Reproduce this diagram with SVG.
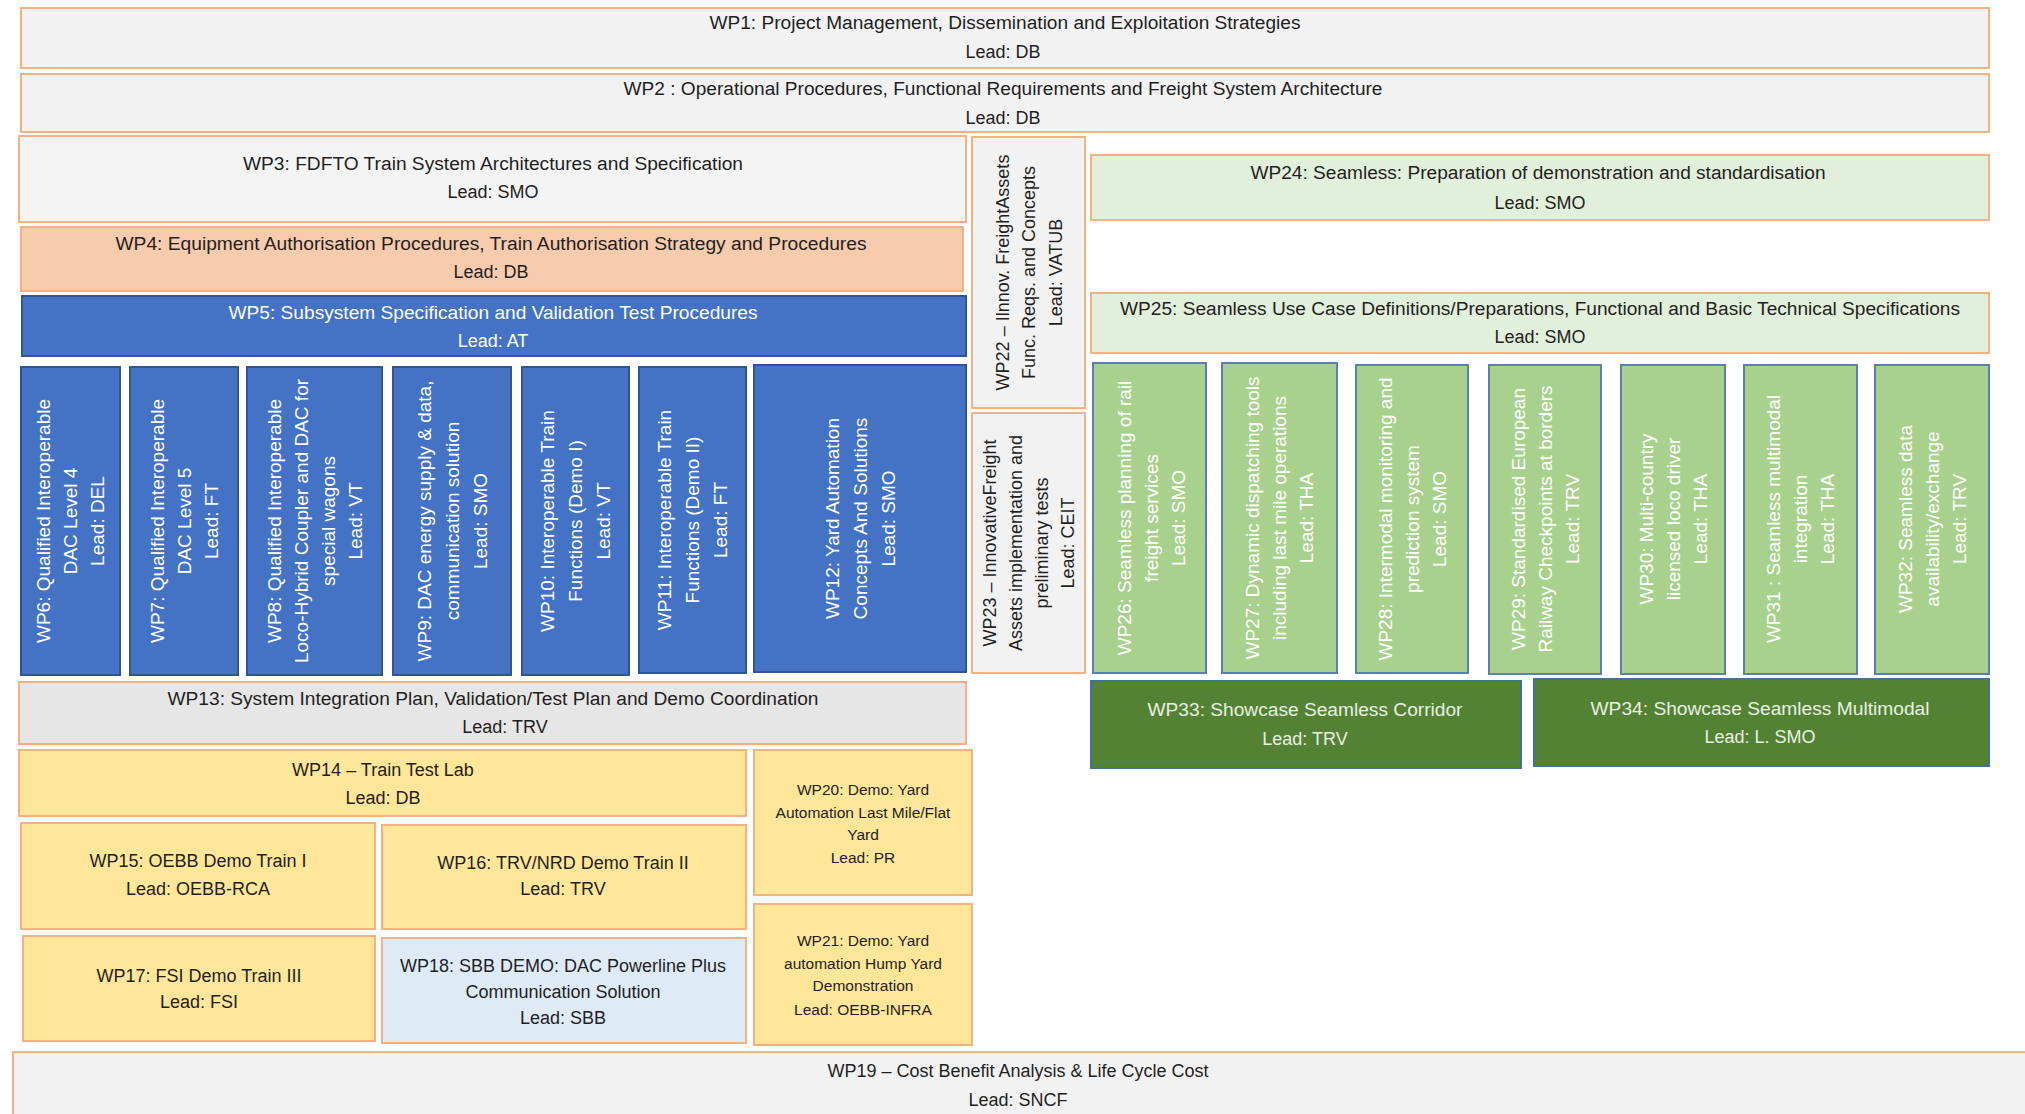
<svg xmlns="http://www.w3.org/2000/svg" width="2025" height="1114" viewBox="0 0 2025 1114">
<style>
rect{stroke-width:2}
.grey{fill:#F2F2F2;stroke:#F4B183}
.grey2{fill:#E7E6E6;stroke:#F4B183}
.peach{fill:#F8CBAD;stroke:#F4B183}
.blue{fill:#4472C4;stroke:#2F5597}
.yellow{fill:#FFE699;stroke:#F4B183}
.lblue{fill:#DEEBF7;stroke:#F4B183}
.lgreen{fill:#E2EFDA;stroke:#F4B183}
.green{fill:#A9D18E;stroke:#5B7FB0}
.dgreen{fill:#548235;stroke:#41719C}
text{font-family:"Liberation Sans",Arial,sans-serif;font-size:18px;fill:#1F1F1F;text-anchor:middle}
.w{fill:#FFFFFF}
.lw{fill:#E8F0E0}
.v{font-size:19px}
.s{font-size:15.5px}
</style>
<rect x="0" y="0" width="2025" height="1114" fill="#FFFFFF" stroke="none"/>
<g id="connectors"/>
<g id="wp1"><rect class="grey" x="21" y="8" width="1968" height="60"/>
<text x="1005" y="29" textLength="591" lengthAdjust="spacingAndGlyphs">WP1: Project Management, Dissemination and Exploitation Strategies</text>
<text x="1003" y="58">Lead: DB</text></g>
<g id="wp2"><rect class="grey" x="21" y="74" width="1968" height="58"/>
<text x="1003" y="95" textLength="759" lengthAdjust="spacingAndGlyphs">WP2 : Operational Procedures, Functional Requirements and Freight System Architecture</text>
<text x="1003" y="124">Lead: DB</text></g>
<g id="wp3"><rect class="grey" x="19" y="136" width="947" height="86" style="fill:#F4F4F4"/>
<text x="493" y="170" textLength="500" lengthAdjust="spacingAndGlyphs">WP3: FDFTO Train System Architectures and Specification</text>
<text x="493" y="198">Lead: SMO</text></g>
<g id="wp4"><rect class="peach" x="21" y="227" width="942" height="64"/>
<text x="491" y="250" textLength="751" lengthAdjust="spacingAndGlyphs">WP4: Equipment Authorisation Procedures, Train Authorisation Strategy and Procedures</text>
<text x="491" y="278">Lead: DB</text></g>
<g id="wp5"><rect class="blue" x="22" y="296" width="944" height="60"/>
<text class="w" x="493" y="319" textLength="529" lengthAdjust="spacingAndGlyphs">WP5: Subsystem Specification and Validation Test Procedures</text>
<text class="w" x="493" y="347">Lead: AT</text></g>
<g id="wp6"><rect class="blue" x="21" y="367" width="99" height="308"/>
<text class="w v" transform="translate(70.5,521) rotate(-90)"><tspan x="0" y="-20.5">WP6: Qualified Interoperable</tspan><tspan x="0" y="6.5">DAC Level 4</tspan><tspan x="0" y="33.5">Lead: DEL</tspan></text></g>
<g id="wp7"><rect class="blue" x="130" y="367" width="108" height="308"/>
<text class="w v" transform="translate(184,521) rotate(-90)"><tspan x="0" y="-20.5">WP7: Qualified Interoperable</tspan><tspan x="0" y="6.5">DAC Level 5</tspan><tspan x="0" y="33.5">Lead: FT</tspan></text></g>
<g id="wp8"><rect class="blue" x="247" y="367" width="135" height="308"/>
<text class="w v" transform="translate(314.5,521) rotate(-90)"><tspan x="0" y="-34">WP8: Qualified Interoperable</tspan><tspan x="0" y="-7">Loco-Hybrid Coupler and DAC for</tspan><tspan x="0" y="20">special wagons</tspan><tspan x="0" y="47">Lead: VT</tspan></text></g>
<g id="wp9"><rect class="blue" x="393" y="367" width="118" height="308"/>
<text class="w v" transform="translate(452,521) rotate(-90)"><tspan x="0" y="-21.5">WP9: DAC energy supply &amp; data,</tspan><tspan x="0" y="6.5">communication solution</tspan><tspan x="0" y="34.5">Lead: SMO</tspan></text></g>
<g id="wp10"><rect class="blue" x="522" y="367" width="107" height="308"/>
<text class="w v" transform="translate(575.5,521) rotate(-90)"><tspan x="0" y="-21.5">WP10: Interoperable Train</tspan><tspan x="0" y="6.5">Functions (Demo I)</tspan><tspan x="0" y="34.5">Lead: VT</tspan></text></g>
<g id="wp11"><rect class="blue" x="639" y="367" width="107" height="306"/>
<text class="w v" transform="translate(692.5,520) rotate(-90)"><tspan x="0" y="-21.5">WP11:  Interoperable  Train</tspan><tspan x="0" y="6.5">Functions (Demo II)</tspan><tspan x="0" y="34.5">Lead: FT</tspan></text></g>
<g id="wp12"><rect class="blue" x="754" y="365" width="212" height="307"/>
<text class="w v" transform="translate(860,518.5) rotate(-90)"><tspan x="0" y="-21.5">WP12:  Yard  Automation</tspan><tspan x="0" y="6.5">Concepts And Solutions</tspan><tspan x="0" y="34.5">Lead: SMO</tspan></text></g>
<g id="wp22"><rect class="grey" x="972" y="137" width="113" height="271"/>
<text transform="translate(1028.5,272.5) rotate(-90)"><tspan x="0" y="-20">WP22 – Ilnnov. FreightAssets</tspan><tspan x="0" y="6.5">Func. Reqs.  and Concepts</tspan><tspan x="0" y="33">Lead: VATUB</tspan></text></g>
<g id="wp23"><rect class="grey" x="972" y="413" width="113" height="260"/>
<text transform="translate(1028.5,543) rotate(-90)"><tspan x="0" y="-33">WP23 – InnovativeFreight</tspan><tspan x="0" y="-7">Assets implementation and</tspan><tspan x="0" y="19">preliminary tests</tspan><tspan x="0" y="45">Lead: CEIT</tspan></text></g>
<g id="wp24"><rect class="lgreen" x="1091" y="155" width="898" height="65"/>
<text x="1538" y="179" textLength="575" lengthAdjust="spacingAndGlyphs">WP24: Seamless: Preparation of demonstration and standardisation</text>
<text x="1540" y="209">Lead: SMO</text></g>
<g id="wp25"><rect class="lgreen" x="1091" y="293" width="898" height="60"/>
<text x="1540" y="315" textLength="840" lengthAdjust="spacingAndGlyphs">WP25: Seamless Use Case Definitions/Preparations, Functional and Basic Technical Specifications</text>
<text x="1540" y="343">Lead: SMO</text></g>
<g id="wp26"><rect class="green" x="1093" y="363" width="113" height="310"/>
<text class="w v" transform="translate(1151,518) rotate(-90)"><tspan x="0" y="-20.5">WP26: Seamless planning of rail</tspan><tspan x="0" y="6.5">freight services</tspan><tspan x="0" y="33.5">Lead: SMO</tspan></text></g>
<g id="wp27"><rect class="green" x="1222" y="363" width="115" height="310"/>
<text class="w v" transform="translate(1279.5,518) rotate(-90)"><tspan x="0" y="-20.5">WP27: Dynamic dispatching tools</tspan><tspan x="0" y="6.5">including last mile operations</tspan><tspan x="0" y="33.5">Lead: THA</tspan></text></g>
<g id="wp28"><rect class="green" x="1356" y="365" width="112" height="308"/>
<text class="w v" transform="translate(1412,519) rotate(-90)"><tspan x="0" y="-20.5">WP28: Intermodal monitoring and</tspan><tspan x="0" y="6.5">prediction system</tspan><tspan x="0" y="33.5">Lead: SMO</tspan></text></g>
<g id="wp29"><rect class="green" x="1489" y="365" width="112" height="309"/>
<text class="w v" transform="translate(1545,519) rotate(-90)"><tspan x="0" y="-20.5">WP29: Standardised European</tspan><tspan x="0" y="6.5">Railway Checkpoints at borders</tspan><tspan x="0" y="33.5">Lead: TRV</tspan></text></g>
<g id="wp30"><rect class="green" x="1621" y="365" width="104" height="309"/>
<text class="w v" transform="translate(1673,519) rotate(-90)"><tspan x="0" y="-20.5">WP30: Multi-country</tspan><tspan x="0" y="6.5">licensed loco driver</tspan><tspan x="0" y="33.5">Lead: THA</tspan></text></g>
<g id="wp31"><rect class="green" x="1744" y="365" width="113" height="309"/>
<text class="w v" transform="translate(1800.5,519) rotate(-90)"><tspan x="0" y="-20.5">WP31 : Seamless multimodal</tspan><tspan x="0" y="6.5">integration</tspan><tspan x="0" y="33.5">Lead: THA</tspan></text></g>
<g id="wp32"><rect class="green" x="1875" y="365" width="114" height="309"/>
<text class="w v" transform="translate(1932,519) rotate(-90)"><tspan x="0" y="-20.5">WP32: Seamless data</tspan><tspan x="0" y="6.5">availability/exchange</tspan><tspan x="0" y="33.5">Lead: TRV</tspan></text></g>
<g id="wp13"><rect class="grey2" x="19" y="682" width="947" height="62"/>
<text x="493" y="705" textLength="651" lengthAdjust="spacingAndGlyphs">WP13: System Integration Plan, Validation/Test Plan and Demo Coordination</text>
<text x="505" y="733">Lead: TRV</text></g>
<g id="wp33"><rect class="dgreen" x="1091" y="681" width="430" height="87"/>
<text class="lw" x="1305" y="716" textLength="315" lengthAdjust="spacingAndGlyphs">WP33: Showcase Seamless Corridor</text>
<text class="lw" x="1305" y="745">Lead: TRV</text></g>
<g id="wp34"><rect class="dgreen" x="1534" y="679" width="455" height="87"/>
<text class="lw" x="1760" y="715" textLength="339" lengthAdjust="spacingAndGlyphs">WP34: Showcase Seamless Multimodal</text>
<text class="lw" x="1760" y="743">Lead: L. SMO</text></g>
<g id="wp14"><rect class="yellow" x="19" y="750" width="727" height="66"/>
<text x="383" y="776">WP14 – Train Test Lab</text>
<text x="383" y="804">Lead: DB</text></g>
<g id="wp20"><rect class="yellow" x="754" y="750" width="218" height="145"/>
<text class="s" x="863" y="795">WP20: Demo: Yard</text>
<text class="s" x="863" y="818">Automation Last Mile/Flat</text>
<text class="s" x="863" y="840">Yard</text>
<text class="s" x="863" y="863">Lead: PR</text></g>
<g id="wp15"><rect class="yellow" x="21" y="823" width="354" height="106"/>
<text x="198" y="867">WP15: OEBB Demo Train I</text>
<text x="198" y="895">Lead: OEBB-RCA</text></g>
<g id="wp16"><rect class="yellow" x="382" y="825" width="364" height="104"/>
<text x="563" y="869">WP16: TRV/NRD Demo Train II</text>
<text x="563" y="895">Lead: TRV</text></g>
<g id="wp17"><rect class="yellow" x="23" y="936" width="352" height="105"/>
<text x="199" y="982">WP17: FSI Demo Train III</text>
<text x="199" y="1008">Lead: FSI</text></g>
<g id="wp18"><rect class="lblue" x="382" y="938" width="364" height="105"/>
<text x="563" y="972">WP18: SBB DEMO: DAC Powerline Plus</text>
<text x="563" y="998">Communication Solution</text>
<text x="563" y="1024">Lead: SBB</text></g>
<g id="wp21"><rect class="yellow" x="754" y="904" width="218" height="141"/>
<text class="s" x="863" y="946">WP21: Demo: Yard</text>
<text class="s" x="863" y="969">automation Hump Yard</text>
<text class="s" x="863" y="991">Demonstration</text>
<text class="s" x="863" y="1015">Lead: OEBB-INFRA</text></g>
<g id="wp19"><rect class="grey" x="13" y="1052" width="2020" height="70"/>
<text x="1018" y="1077">WP19 – Cost Benefit Analysis &amp; Life Cycle Cost</text>
<text x="1018" y="1106">Lead: SNCF</text></g>
</svg>
